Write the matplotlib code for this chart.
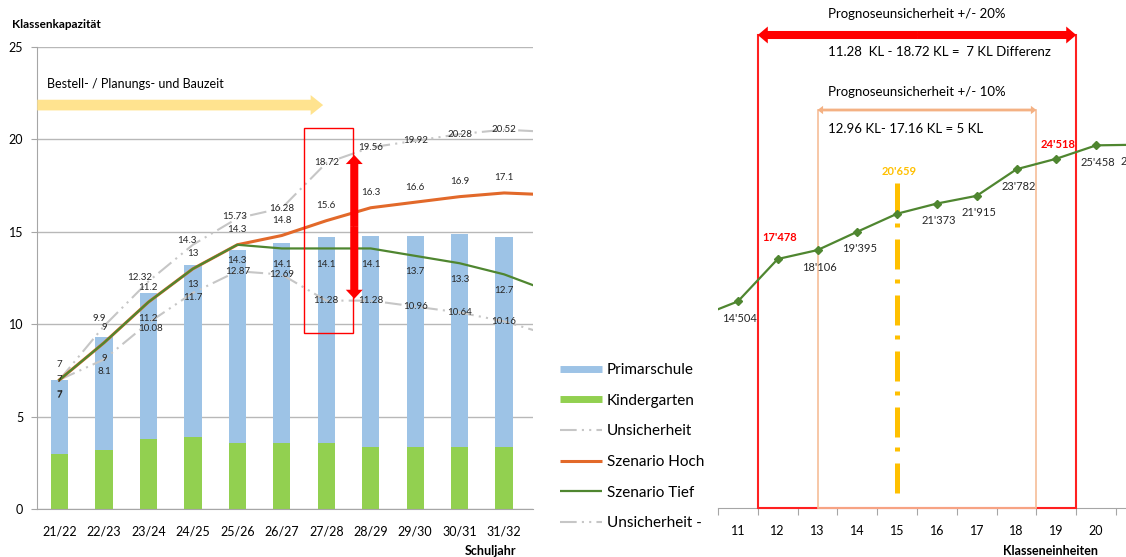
import matplotlib.pyplot as plt
from matplotlib.lines import Line2D
from matplotlib.patches import Rectangle, FancyArrowPatch

plt.rcParams['font.family'] = ['Lato', 'DejaVu Sans']

W, H = 1126, 557

# Klassenbedarf je Schuljahr
schuljahre = ['21/22', '22/23', '23/24', '24/25', '25/26', '26/27',
              '27/28', '28/29', '29/30', '30/31', '31/32', '32/33']
kindergarten = [3.0, 3.2, 3.8, 3.9, 3.6, 3.6, 3.6, 3.35, 3.35, 3.35, 3.35]
primarschule = [4.0, 6.1, 7.9, 9.3, 10.4, 10.8, 11.1, 11.45, 11.45, 11.55, 11.35]
szenario_hoch = [7, 9, 11.2, 13, 14.3, 14.8, 15.6, 16.3, 16.6, 16.9, 17.1, 17.0]
szenario_tief = [7, 9, 11.2, 13, 14.3, 14.1, 14.1, 14.1, 13.7, 13.3, 12.7, 11.8]
unsicherheit_plus = [7, 9.9, 12.32, 14.3, 15.73, 16.28, 18.72, 19.56, 19.92, 20.28, 20.52, 20.4]
unsicherheit_minus = [7, 8.1, 10.08, 11.7, 12.87, 12.69, 11.28, 11.28, 10.96, 10.64, 10.16, 9.44]

# Schuelerzahlen je Klasseneinheit
klassen = [10, 11, 12, 13, 14, 15, 16, 17, 18, 19, 20, 21]
schueler = [13400, 14504, 17478, 18106, 19395, 20659, 21373, 21915, 23782, 24518, 25458, 25500]

BLAU = '#9DC3E6'
HELLGRUEN = '#92D050'
ORANGE = '#E2692A'
GRUEN = '#4F8630'
GRAU = '#C6C6C6'
ACHSE = '#A6A6A6'
strich = (8, 2.5, 1, 2.5, 1, 2.5)


def fx(x):
    return x / W


def fy(y):
    return 1 - y / H


fig = plt.figure(figsize=(W / 100, H / 100), dpi=100)

# ---- linke Grafik: Klassenkapazitaet ----
ax = fig.add_axes([fx(37), fy(509.3), (533 - 37) / W, (509.3 - 46.8) / H])
x = list(range(len(schuljahre)))
n = len(kindergarten)
ax.bar(x[:n], kindergarten, width=0.39, color=HELLGRUEN, zorder=2)
ax.bar(x[:n], primarschule, bottom=kindergarten, width=0.39, color=BLAU, zorder=2)

ax.plot(x, unsicherheit_plus, color=GRAU, lw=1.5, dashes=strich, zorder=3)
ax.plot(x, unsicherheit_minus, color=GRAU, lw=1.5, dashes=strich, zorder=3)
ax.plot(x, szenario_hoch, color=ORANGE, lw=2.2, zorder=4)
ax.plot(x, szenario_tief, color=GRUEN, lw=1.6, zorder=5)

# Beschriftungen der Punkte (Versatz in Pixeln)
off_plus = [(0, 0), (-5, 8), (-9, 4), (-6, 4), (-3, 2)] + [(0, 0)] * 6
off_minus = [(0, -15), (0, -12), (2, -6), (0, -5)] + [(0, 0)] * 7
for i in range(n):
    for werte, (dx, dy) in [(szenario_hoch, (0, 15)), (szenario_tief, (0, -16)),
                            (unsicherheit_plus, off_plus[i]),
                            (unsicherheit_minus, off_minus[i])]:
        ax.annotate(f'{werte[i]:g}', (i, werte[i]), xytext=(dx, dy),
                    textcoords='offset pixels', ha='center', va='center',
                    fontsize=7, color='#262626', zorder=6)

ax.set_yticks([0, 5, 10, 15, 20, 25])
ax.set_xticks(x)
ax.set_xticklabels(schuljahre)
ax.set_xlim(-0.506, 10.65)
ax.set_ylim(0, 25)
ax.grid(axis='y', color='#B8B8B8', lw=1)
ax.set_axisbelow(True)
for s in ['top', 'right']:
    ax.spines[s].set_visible(False)
for s in ['left', 'bottom']:
    ax.spines[s].set_color(ACHSE)
ax.tick_params(axis='y', length=4, color=ACHSE, pad=6, labelsize=9)
ax.tick_params(axis='x', length=0, pad=12, labelsize=9)

# Bestell- / Planungszeit
ax.add_patch(FancyArrowPatch((-0.5, 21.85), (5.93, 21.85),
                             arrowstyle='simple,head_length=0.45,head_width=0.72,tail_width=0.385',
                             mutation_scale=20, color='#FFE38F', lw=0,
                             shrinkA=0, shrinkB=0, zorder=4))
fig.text(fx(47), fy(84), 'Bestell- / Planungs- und Bauzeit', fontsize=9, va='center')

# Spannweite 27/28
ax.add_patch(Rectangle((5.5, 9.53), 1.1, 11.08, fill=False, ec='#FF0000', lw=1, zorder=6))
mitte = (19.15 + 11.38) / 2
for ende in (19.15, 11.38):
    ax.add_patch(FancyArrowPatch((6.63, mitte), (6.63, ende),
                                 arrowstyle='simple,head_length=0.65,head_width=1.22,tail_width=0.58',
                                 mutation_scale=10, color='#FF0000', lw=0,
                                 shrinkA=0, shrinkB=0, zorder=7))

fig.text(fx(12), fy(24), 'Klassenkapazität', fontsize=8.5, fontweight='bold', va='center')
fig.text(fx(491), fy(551), 'Schuljahr', fontsize=9, fontweight='bold', ha='center', va='center')

handles = [Line2D([], [], color=BLAU, lw=5, solid_capstyle='butt'),
           Line2D([], [], color=HELLGRUEN, lw=5, solid_capstyle='butt'),
           Line2D([], [], color=GRAU, lw=1.5, dashes=strich),
           Line2D([], [], color=ORANGE, lw=2.2, solid_capstyle='butt'),
           Line2D([], [], color=GRUEN, lw=1.6, solid_capstyle='butt'),
           Line2D([], [], color=GRAU, lw=1.5, dashes=strich)]
labels = ['Primarschule', 'Kindergarten', 'Unsicherheit', 'Szenario Hoch',
          'Szenario Tief', 'Unsicherheit -']
fig.legend(handles, labels, loc='upper left', bbox_to_anchor=(fx(560), fy(363)),
           frameon=False, fontsize=11, handlelength=2.75, handletextpad=0.33,
           labelspacing=1.09, borderpad=0, borderaxespad=0)

# ---- rechte Grafik: Schueler je Klasseneinheit ----
px_wert = 70.2
ax2 = fig.add_axes([fx(718), fy(508), (W - 718) / W, 508 / H])
ax2.plot(klassen, schueler, color=GRUEN, lw=1.6, marker='D', ms=4.5, zorder=4)


def tausender(v):
    return f'{v:,}'.replace(',', "'")


for k, v in zip(klassen, schueler):
    if k < 10.5:
        continue
    farbe, gewicht, dy = '#262626', 'normal', -17
    if k in (12, 19):
        farbe, gewicht, dy = '#FF0000', 'bold', (22 if k == 12 else 14)
    elif k == 15:
        farbe, gewicht, dy = '#FFC000', 'bold', 42
    ax2.annotate(tausender(v), (k, v), xytext=(2, dy), textcoords='offset pixels',
                 ha='center', va='center', fontsize=8, color=farbe,
                 fontweight=gewicht, annotation_clip=False, zorder=6)

# Unsicherheitsbereiche
ax2.add_patch(Rectangle((11.5, 0), 8, (508 - 35) * px_wert, fill=False,
                        ec='#FF2020', lw=1.5, zorder=3, clip_on=False))
ax2.add_patch(Rectangle((13, 0), 5.5, (508 - 110) * px_wert, fill=False,
                        ec='#F6BE98', lw=1.2, zorder=3, clip_on=False))
y20 = (508 - 35) * px_wert
y10 = (508 - 110) * px_wert
for a, b in [((15.5, y20), (11.5, y20)), ((15.5, y20), (19.5, y20))]:
    ax2.add_patch(FancyArrowPatch(a, b,
                                  arrowstyle='simple,head_length=0.72,head_width=1.22,tail_width=0.58',
                                  mutation_scale=10, color='#FF0000', lw=0,
                                  shrinkA=0, shrinkB=0, zorder=7, clip_on=False))
for a, b in [((15.75, y10), (13, y10)), ((15.75, y10), (18.5, y10))]:
    ax2.add_patch(FancyArrowPatch(a, b,
                                  arrowstyle='simple,head_length=0.4,head_width=0.6,tail_width=0.2',
                                  mutation_scale=10, color='#F4B183', lw=0,
                                  shrinkA=0, shrinkB=0, zorder=7, clip_on=False))
ax2.plot([15, 15], [(508 - 183) * px_wert, (508 - 500) * px_wert], color='#FFC000',
         lw=3.6, dashes=(6, 2, 0.8, 2.4), solid_capstyle='butt', zorder=3)

ax2.set_xticks([k + 0.5 for k in range(10, 21)])
ax2.set_xticklabels([])
ax2.set_xticks(klassen[1:-1], minor=True)
ax2.set_xticklabels([str(k) for k in klassen[1:-1]], minor=True)
ax2.set_xlim(10.5, 20.75)
ax2.set_ylim(0, 508 * px_wert)
ax2.tick_params(axis='x', which='major', length=5, color=ACHSE)
ax2.tick_params(axis='x', which='minor', length=0, pad=12, labelsize=9)
ax2.set_yticks([])
for s in ['top', 'right', 'left']:
    ax2.spines[s].set_visible(False)
ax2.spines['bottom'].set_color(ACHSE)

fig.text(fx(828), fy(14), 'Prognoseunsicherheit +/- 20%', fontsize=9.5, va='center')
fig.text(fx(828), fy(52), '11.28  KL - 18.72 KL =  7 KL Differenz', fontsize=9.5, va='center')
fig.text(fx(828), fy(92), 'Prognoseunsicherheit +/- 10%', fontsize=9.5, va='center')
fig.text(fx(828), fy(129), '12.96 KL- 17.16 KL = 5 KL', fontsize=9.5, va='center')
fig.text(fx(1051), fy(551), 'Klasseneinheiten', fontsize=9, fontweight='bold',
         ha='center', va='center')

fig.savefig('out.png', dpi=100)
